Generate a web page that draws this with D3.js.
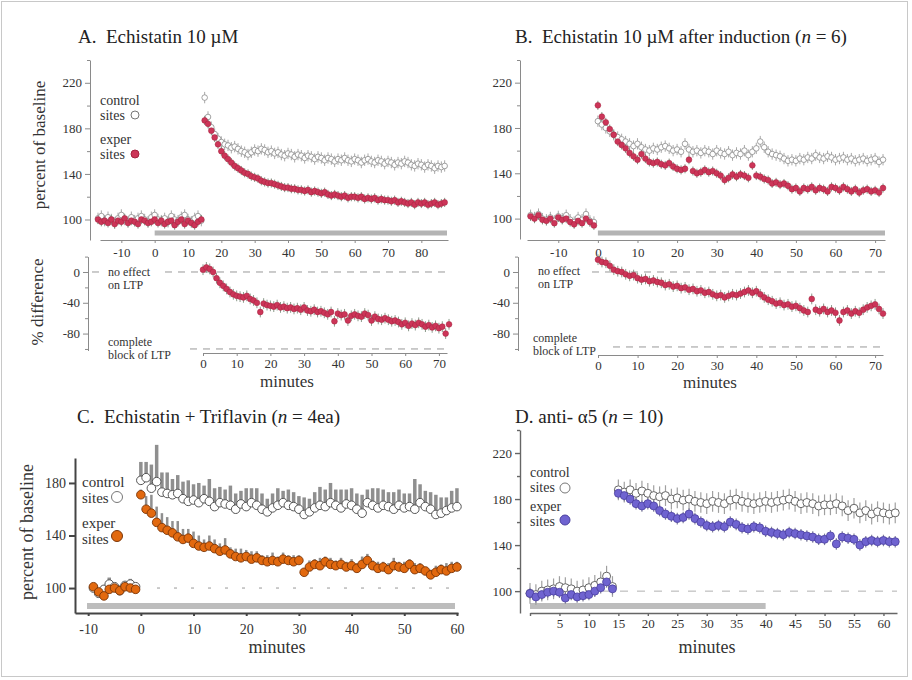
<!DOCTYPE html>
<html><head><meta charset="utf-8">
<script src="https://cdn.jsdelivr.net/npm/d3@7"></script>
<style>
body{margin:0;background:#fff}
svg{display:block}
text{font-family:"Liberation Serif","Times New Roman",serif !important;white-space:pre}
</style>
</head><body>
<svg id="c" width="912" height="680"></svg>
<script>
// ===================== DATA =====================
// Panel A: Echistatin 10 uM (minutes, 1 sample / min)
const aStart = -17;
const aControl = [101,103,99,102,100,97,101,104,100,98,102,99,101,103,100,98,102,104,100,99,101,98,103,100,99,102,104,100,98,101,103,99,
 207,190,181,175,171,168,166,165,163,164,
 162,160,159,157,159,161,160,162,161,159,
 160,158,159,157,156,158,157,155,157,156,
 154,156,155,153,155,154,152,154,153,151,
 153,152,154,152,151,153,152,150,152,153,
 151,150,152,151,149,151,150,148,150,149,
 151,150,148,147,149,148,146,148,147,145,
 147,146,147];
const aExper = [100,98,99,97,100,96,99,98,101,97,99,98,96,100,99,97,98,100,97,99,96,98,99,95,98,100,96,99,97,95,98,100,
 187,184,178,172,166,160,156,153,150,147,
 145,143,141,140,138,137,136,134,133,132,
 132,131,130,129,128,128,127,127,126,126,
 125,126,124,125,124,123,124,122,121,122,
 121,120,121,119,120,120,119,120,118,119,
 118,119,117,118,117,117,116,117,115,116,
 115,114,115,113,115,114,115,113,114,115,
 113,114,115];
const aDiffStart = 0;
const aDiff = [3,6,4,0,-8,-14,-18,-22,-26,-29,
 -31,-32,-33,-31,-35,-37,-40,-52,-41,-43,
 -44,-45,-43,-46,-45,-47,-46,-48,-47,-49,
 -46,-50,-51,-49,-52,-51,-53,-55,-52,-64,
 -54,-56,-55,-63,-57,-55,-57,-58,-54,-56,
 -63,-58,-61,-62,-60,-62,-64,-63,-65,-68,
 -66,-70,-67,-69,-66,-68,-71,-69,-72,-70,
 -73,-71,-80,-68];
const aControlSem = 5, aExperSem = 4, aDiffSem = 7;

// Panel B: Echistatin 10 uM after induction (n = 6)
const bStart = -17;
const bControl = [103,101,104,100,99,101,98,102,100,103,99,97,101,99,104,98,97,
 186,183,180,177,174,172,170,168,166,164,
 166,163,161,160,162,161,163,164,162,160,
 161,159,166,161,159,160,158,160,159,157,
 160,158,157,159,156,158,157,160,156,159,
 162,168,163,159,157,156,155,153,151,152,
 151,153,152,154,153,156,154,153,155,154,
 152,153,154,152,153,151,152,153,151,152,
 153,150,152];
const bExper = [102,100,103,99,98,100,96,101,99,100,97,95,98,96,100,97,94,
 200,190,185,179,174,168,165,162,158,155,
 152,157,153,150,149,150,148,147,149,146,
 144,143,144,152,142,140,141,143,141,142,
 140,138,134,136,139,137,139,138,136,147,
 138,137,135,134,131,132,130,131,129,126,
 127,124,127,126,128,125,127,126,124,128,
 127,125,128,126,124,126,123,125,126,124,
 125,123,127];
const bDiffStart = 0;
const bDiff = [16,13,12,8,3,1,0,-3,-5,-4,
 -8,-10,-9,-12,-11,-13,-14,-17,-16,-19,
 -18,-21,-20,-23,-22,-25,-24,-27,-26,-29,
 -31,-30,-33,-31,-29,-30,-28,-26,-24,-27,
 -25,-29,-33,-36,-38,-41,-40,-43,-42,-45,
 -44,-47,-50,-52,-35,-49,-51,-48,-52,-50,
 -53,-63,-52,-50,-54,-51,-53,-49,-46,-44,
 -42,-48,-54];
const bControlSem = 5, bExperSem = 4, bDiffSem = 7;

// Panel C: Echistatin + Triflavin (n = 4ea)
const cStart = -9;
const cControl = [100,96,99,103,101,98,102,103,101,
 182,184,176,181,173,172,171,172,168,166,
 167,165,168,166,162,165,164,163,160,164,
 162,165,163,160,158,161,163,165,163,162,
 160,156,158,161,163,162,165,163,161,164,
 163,160,157,165,163,161,163,162,160,163,
 161,162,160,165,162,160,156,157,159,161,
 162];
const cControlErr = [3,4,3,5,3,4,3,4,3,
 14,12,18,28,15,16,12,14,13,16,
 12,15,10,17,14,12,11,15,12,10,
 14,11,13,12,10,11,13,9,12,11,
 10,13,10,12,14,13,15,12,14,11,
 13,12,14,10,13,15,12,11,13,12,
 11,10,23,14,12,13,15,12,10,13,
 14];
const cExper = [101,97,94,99,100,98,101,100,99,
 171,160,157,150,146,144,142,139,137,138,
 134,132,131,132,130,128,129,126,124,123,
 124,122,123,121,120,121,120,122,121,120,
 121,112,116,118,117,120,118,117,118,116,
 117,115,118,121,117,115,116,114,117,116,
 115,118,114,115,113,110,112,114,113,115,
 116];
const cExperErr = [2,2,2,2,2,2,2,2,2,
 4,10,14,12,11,10,9,12,8,7,
 9,8,6,8,7,6,9,5,6,7,
 5,6,5,4,5,6,4,5,4,5,
 4,3,5,4,6,4,5,4,5,4,
 5,4,6,5,4,5,4,5,6,4,
 5,4,5,4,3,4,5,4,6,5,
 4];

// Panel D: anti-alpha5 (n = 10)
const dStart = 0;
const dControl = [98,97,100,101,102,104,103,102,100,101,
 103,105,108,113,104,188,186,188,185,187,
 185,183,182,183,180,181,179,180,178,177,
 176,178,177,176,179,180,178,177,176,177,
 178,177,178,179,180,178,176,177,176,174,
 175,175,176,174,170,172,168,170,167,169,
 168,167,168];
const dExper = [98,95,97,99,100,99,94,97,95,96,
 97,100,103,108,102,185,183,180,176,174,
 176,174,170,167,165,163,164,167,163,160,
 157,156,157,156,160,158,155,154,156,155,
 152,151,150,149,151,150,149,148,147,145,
 145,148,141,147,146,145,140,143,144,143,
 144,143,143];
const dControlSem = 9, dExperSem = 5;

// Tick labels
const ticksTopY = [100,140,180,220];
const minorTopY = [120,160,200,240];
const ticksDiffY = [0,-40,-80];
const minorDiffY = [20,-20,-60,-100];
const ticksAX = [-10,0,10,20,30,40,50,60,70,80];
const ticksBX = [-10,0,10,20,30,40,50,60,70];
const ticksDiffX = [0,10,20,30,40,50,60,70];
const ticksCY = [100,140,180];
const ticksCX = [-10,0,10,20,30,40,50,60];
const ticksDY = [100,140,180,220];
const ticksDX = [0,5,10,15,20,25,30,35,40,45,50,55,60];

// ===================== DRAWING =====================
const SERIF = '"Liberation Serif","Times New Roman",serif';
const svg = d3.select('#c');
const RED = '#cc3558', RED_S = '#a3233f';

svg.append('rect').attr('x',1.5).attr('y',1.5).attr('width',906).attr('height',675)
  .attr('fill','none').attr('stroke','#c8c8c8').attr('stroke-width',1);

function pts(t0, vals, errs){
  return vals.map((v,i)=>({t:t0+i, v, e: Array.isArray(errs)? (errs[i]||0) : errs}));
}
function drawErr(x, y, data, color, width, upOnly){
  svg.append('g').selectAll('line').data(data).join('line')
    .attr('x1', d=>x(d.t)).attr('x2', d=>x(d.t))
    .attr('y1', d=>y(upOnly? d.v : d.v - d.e)).attr('y2', d=>y(d.v + d.e))
    .attr('stroke', color).attr('stroke-width', width);
}
function drawDots(x, y, data, r, fill, stroke, sw){
  svg.append('g').selectAll('circle').data(data).join('circle')
    .attr('cx', d=>x(d.t)).attr('cy', d=>y(d.v)).attr('r', r)
    .attr('fill', fill).attr('stroke', stroke).attr('stroke-width', sw);
}
function styleAxis(g, color, width, fs){
  g.attr('font-family', SERIF);
  g.select('.domain').attr('stroke', color).attr('stroke-width', width);
  g.selectAll('.tick line').attr('stroke', color).attr('stroke-width', width);
  g.selectAll('.tick text').style('font-family', SERIF).attr('font-size', fs).attr('fill','#333');
}
function leftAxis(x0, y, major, minor, o){
  const g = svg.append('g').attr('transform',`translate(${x0},0)`)
    .call(d3.axisLeft(y).tickValues(major).tickSize(o.ts).tickSizeOuter(0).tickPadding(o.pad).tickFormat(d=>String(d)));
  styleAxis(g, o.color, o.width, o.fs);
  if (minor){
    const m = svg.append('g').attr('transform',`translate(${x0},0)`)
      .call(d3.axisLeft(y).tickValues(minor).tickSize(o.ts*0.6).tickSizeOuter(0).tickFormat(''));
    m.select('.domain').remove();
    m.selectAll('line').attr('stroke', o.color).attr('stroke-width', o.width);
  }
}
function bottomAxis(y0, x, major, o, fmt){
  const g = svg.append('g').attr('transform',`translate(0,${y0})`)
    .call(d3.axisBottom(x).tickValues(major).tickSize(o.ts).tickSizeOuter(0).tickPadding(o.pad).tickFormat(fmt || (d=>String(d))));
  styleAxis(g, o.color, o.width, o.fs);
}
function hline(y, x1, x2, color, dash, w){
  svg.append('line').attr('x1',x1).attr('x2',x2).attr('y1',y).attr('y2',y)
    .attr('stroke',color).attr('stroke-width',w||1).attr('stroke-dasharray',dash||null);
}
function label(x, y, s, size, anchor, color){
  return svg.append('text').attr('x',x).attr('y',y).attr('font-size',size)
    .style('font-family', SERIF)
    .attr('text-anchor',anchor||'start').attr('fill',color||'#333').text(s);
}
function title(x, y, parts, size){
  const t = svg.append('text').attr('x',x).attr('y',y).attr('font-size',size).attr('fill','#222').style('font-family', SERIF);
  parts.forEach(p => t.append('tspan').attr('font-style', p.i?'italic':null).text(p.s));
}
function vlabel(cx, cy, s, size){
  svg.append('text').attr('transform',`translate(${cx},${cy}) rotate(-90)`).style('font-family', SERIF)
    .attr('text-anchor','middle').attr('font-size',size).attr('fill','#333').text(s);
}
function grayBar(x1, x2, y, h, color){
  svg.append('rect').attr('x',x1).attr('y',y).attr('width',x2-x1).attr('height',h).attr('fill',color);
}
function legend(x, y1, y2, cx, cy1, cy2, r, fill, stroke, size){
  label(x, y1, 'control', size); label(x, y1+ (size+1), 'sites', size);
  svg.append('circle').attr('cx',cx).attr('cy',cy1).attr('r',r).attr('fill','#fff').attr('stroke','#777').attr('stroke-width',1);
  label(x, y2, 'exper', size); label(x, y2+(size+1), 'sites', size);
  svg.append('circle').attr('cx',cx).attr('cy',cy2).attr('r',r).attr('fill',fill).attr('stroke',stroke).attr('stroke-width',1);
}

const axGray = {color:'#8a8a8a', width:1, fs:13, ts:5, pad:3};

// ---------- Panel A top ----------
{
  const x = d3.scaleLinear().domain([-16.4, 88]).range([100, 448]);
  const y = d3.scaleLinear().domain([82, 240]).range([240, 60]);
  title(78, 43, [{s:'A.  Echistatin 10 \u00b5M'}], 19);
  vlabel(45, 145, 'percent of baseline', 17);
  leftAxis(90, y, ticksTopY, minorTopY, axGray);
  bottomAxis(240, x, ticksAX, {color:'#8a8a8a', width:1, fs:13, ts:3, pad:5});
  grayBar(x(0), 447, 230.5, 5, '#b4b4b4');
  const c = pts(aStart, aControl, aControlSem), e = pts(aStart, aExper, aExperSem);
  drawErr(x, y, c, '#a8a8a8', 1);
  drawErr(x, y, e, '#7f927f', 1);
  drawDots(x, y, c, 2.8, '#fff', '#8a8a8a', 0.8);
  drawDots(x, y, e, 2.9, RED, RED_S, 0.5);
  legend(100, 105, 144, 135, 115, 154, 4, RED, RED_S, 14);
}
// ---------- Panel A diff ----------
{
  const x = d3.scaleLinear().domain([0, 72.4]).range([203, 447]);
  const y = d3.scaleLinear().domain([-102, 20]).range([350.5, 256.6]);
  vlabel(43, 302, '% difference', 17);
  leftAxis(88, y, ticksDiffY, minorDiffY, axGray);
  bottomAxis(353, x, ticksDiffX, {color:'#8a8a8a', width:1, fs:13, ts:3, pad:3});
  hline(y(0), 92, 104, '#999', '7,6');
  hline(y(0), 165, 445, '#999', '7,6');
  hline(y(-100), 190, 445, '#999', '7,6');
  label(108, 276, 'no effect', 12); label(108, 289, 'on LTP', 12);
  label(108, 346, 'complete', 12); label(108, 359, 'block of LTP', 12);
  label(287, 387, 'minutes', 17, 'middle');
  const d = pts(aDiffStart, aDiff, aDiffSem);
  drawErr(x, y, d, '#8a9a8a', 1);
  drawDots(x, y, d, 2.9, RED, RED_S, 0.5);
}
// ---------- Panel B top ----------
{
  const x = d3.scaleLinear().domain([-17.9, 72.5]).range([527, 885]);
  const y = d3.scaleLinear().domain([82, 240]).range([239, 60]);
  title(515, 43, [{s:'B.  Echistatin 10 \u00b5M after induction ('},{s:'n',i:true},{s:' = 6)'}], 19);
  leftAxis(520, y, ticksTopY, minorTopY, axGray);
  bottomAxis(240, x, ticksBX, {color:'#8a8a8a', width:1, fs:13, ts:3, pad:5});
  grayBar(x(0), 885, 230.5, 5, '#b4b4b4');
  const c = pts(bStart, bControl, bControlSem), e = pts(bStart, bExper, bExperSem);
  drawErr(x, y, c, '#a8a8a8', 1);
  drawErr(x, y, e, '#7f927f', 1);
  drawDots(x, y, c, 2.8, '#fff', '#8a8a8a', 0.8);
  drawDots(x, y, e, 2.9, RED, RED_S, 0.5);
}
// ---------- Panel B diff ----------
{
  const x = d3.scaleLinear().domain([0, 72]).range([598, 883]);
  const y = d3.scaleLinear().domain([-102, 20]).range([350.5, 256.6]);
  leftAxis(518, y, ticksDiffY, minorDiffY, axGray);
  bottomAxis(355, x, ticksDiffX, {color:'#8a8a8a', width:1, fs:13, ts:3, pad:3});
  hline(y(0), 592, 885, '#999', '7,6');
  hline(y(-100) - 2, 613, 883, '#999', '7,6');
  label(538, 275, 'no effect', 12); label(538, 288, 'on LTP', 12);
  label(533, 342, 'complete', 12); label(533, 355, 'block of LTP', 12);
  label(710, 388, 'minutes', 17, 'middle');
  const d = pts(bDiffStart, bDiff, bDiffSem);
  drawErr(x, y, d, '#8a9a8a', 1);
  drawDots(x, y, d, 2.9, RED, RED_S, 0.5);
}
// ---------- Panel C ----------
{
  const x = d3.scaleLinear().domain([-12.5, 60.2]).range([75, 458]);
  const y = d3.scaleLinear().domain([81, 199]).range([613, 458]);
  const ORANGE = '#e2690f', ORANGE_S = '#7a3508';
  title(77, 423, [{s:'C.  Echistatin + Triflavin ('},{s:'n',i:true},{s:' = 4ea)'}], 19);
  vlabel(33, 532, 'percent of baseline', 18);
  grayBar(87, 455, 603, 6, '#bdbdbd');
  hline(y(100), 157, 458, '#999', '3,14');
  leftAxis(75, y, ticksCY, null, {color:'#444', width:2, fs:14, ts:6, pad:3});
  bottomAxis(613, x, ticksCX, {color:'#444', width:2, fs:14, ts:3, pad:8});
  label(277, 653, 'minutes', 18, 'middle');
  const c = pts(cStart, cControl, cControlErr), e = pts(cStart, cExper, cExperErr);
  drawErr(x, y, c, '#8f8f8f', 3.5, true);
  drawErr(x, y, e, '#8f8f8f', 2.5, true);
  drawDots(x, y, c, 4.3, '#fff', '#555', 1);
  drawDots(x, y, e, 4.3, ORANGE, ORANGE_S, 0.9);
  legend(82, 487, 528, 117, 497, 536, 5.5, ORANGE, ORANGE_S, 15);
}
// ---------- Panel D ----------
{
  const x = d3.scaleLinear().domain([0, 62.3]).range([530, 897]);
  const y = d3.scaleLinear().domain([81, 240]).range([613, 430]);
  const BLUE = '#6f63d0', BLUE_S = '#4a3f9e';
  title(515, 423, [{s:'D. anti- \u03b15 ('},{s:'n',i:true},{s:' = 10)'}], 19);
  grayBar(x(0), x(40), 603, 6, '#bdbdbd');
  hline(y(100), 603, 897, '#b0b0b0', '8,9');
  leftAxis(520, y, ticksDY, minorTopY, {color:'#666', width:1.4, fs:13, ts:5, pad:3});
  bottomAxis(613, x, ticksDX, {color:'#666', width:1.4, fs:13, ts:3, pad:3}, d => d === 0 ? '' : String(d));
  label(707, 653, 'minutes', 18, 'middle');
  const c = pts(dStart, dControl, dControlSem), e = pts(dStart, dExper, dExperSem);
  drawErr(x, y, c, '#a0a0a0', 1.2);
  drawErr(x, y, e, '#80809a', 1.2);
  drawDots(x, y, c, 4, '#fff', '#666', 1);
  drawDots(x, y, e, 4, BLUE, BLUE_S, 0.8);
  legend(530, 477, 511, 565, 488, 520, 5, BLUE, BLUE_S, 14);
}
</script>
</body></html>
